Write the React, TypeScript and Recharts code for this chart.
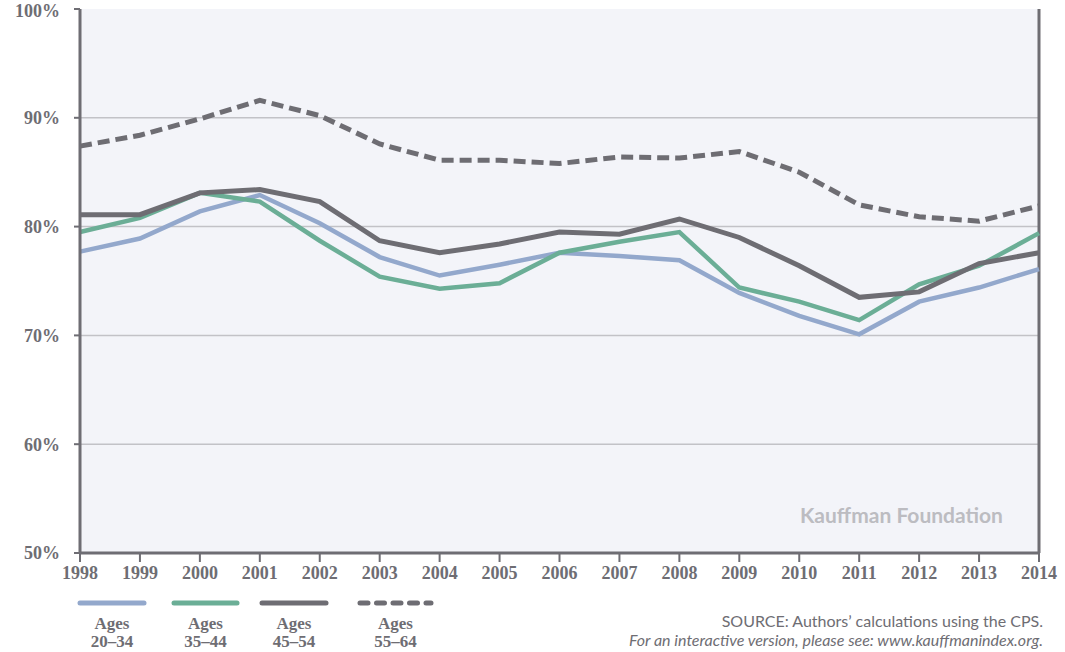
import React from "react";
import {
  LineChart,
  Line,
  XAxis,
  YAxis,
  CartesianGrid,
  ReferenceLine,
} from "recharts";

// Share of people by age group, 1998-2014
const years = [
  "1998", "1999", "2000", "2001", "2002", "2003", "2004", "2005", "2006",
  "2007", "2008", "2009", "2010", "2011", "2012", "2013", "2014",
];
const ages2034 = [77.7, 78.9, 81.4, 82.9, 80.3, 77.2, 75.5, 76.5, 77.6, 77.3, 76.9, 73.9, 71.8, 70.1, 73.1, 74.4, 76.1];
const ages3544 = [79.5, 80.8, 83.1, 82.3, 78.7, 75.4, 74.3, 74.8, 77.6, 78.6, 79.5, 74.4, 73.1, 71.4, 74.7, 76.4, 79.4];
const ages4554 = [81.1, 81.1, 83.1, 83.4, 82.3, 78.7, 77.6, 78.4, 79.5, 79.3, 80.7, 79.0, 76.4, 73.5, 74.0, 76.6, 77.6];
const ages5564 = [87.4, 88.4, 89.9, 91.6, 90.2, 87.6, 86.1, 86.1, 85.8, 86.4, 86.3, 86.9, 85.0, 82.0, 80.9, 80.5, 81.9];
const yTicks = [50, 60, 70, 80, 90, 100];

const data = years.map((year, i) => ({
  year,
  a: ages2034[i],
  b: ages3544[i],
  c: ages4554[i],
  d: ages5564[i],
}));

const BLUE = "#93a8cc";
const GREEN = "#6bae96";
const DARK = "#6e6d73";
const serif = "'Liberation Serif', serif";
const sans = "Lato, 'Open Sans', sans-serif";

const legendItems = [
  { label: "20–34", color: BLUE, x1: 80, x2: 144, dash: undefined },
  { label: "35–44", color: GREEN, x1: 174, x2: 237, dash: undefined },
  { label: "45–54", color: DARK, x1: 262, x2: 326, dash: undefined },
  { label: "55–64", color: DARK, x1: 360, x2: 431, dash: "8 8.5" },
];

const App = () => {
  return (
    <div style={{ position: "absolute", left: 0, top: 0, width: 1065, height: 652, background: "#fff" }}>
      <LineChart
        width={1065}
        height={652}
        data={data}
        margin={{ top: 9, right: 26, bottom: 69, left: 10 }}
      >
        <CartesianGrid
          vertical={false}
          horizontalValues={[60, 70, 80, 90]}
          stroke="#c2c2c7"
          strokeWidth={1.5}
          fill="#f3f4f9"
        />
        <XAxis
          dataKey="year"
          height={30}
          axisLine={{ stroke: DARK, strokeWidth: 3 }}
          tickLine={{ stroke: DARK, strokeWidth: 2 }}
          tickSize={9}
          tickMargin={4}
          interval={0}
          tick={{ fill: DARK, fontFamily: serif, fontWeight: 700, fontSize: 18 }}
        />
        <YAxis
          width={70}
          domain={[50, 100]}
          ticks={yTicks}
          tickFormatter={(v: number) => `${v}%`}
          axisLine={{ stroke: DARK, strokeWidth: 3 }}
          tickLine={{ stroke: DARK, strokeWidth: 2 }}
          tickSize={6}
          tickMargin={14}
          tick={{ fill: DARK, fontFamily: serif, fontWeight: 700, fontSize: 18 }}
        />
        <ReferenceLine x="2014" stroke={DARK} strokeWidth={3} />
        <Line dataKey="a" stroke={BLUE} strokeWidth={4.5} dot={false} isAnimationActive={false} />
        <Line dataKey="b" stroke={GREEN} strokeWidth={4.5} dot={false} isAnimationActive={false} />
        <Line dataKey="c" stroke={DARK} strokeWidth={5} dot={false} isAnimationActive={false} />
        <Line
          dataKey="d"
          stroke={DARK}
          strokeWidth={5}
          strokeDasharray="12 6"
          dot={false}
          isAnimationActive={false}
        />
      </LineChart>

      <div
        style={{
          position: "absolute",
          left: 800,
          top: 502,
          fontFamily: sans,
          fontWeight: 700,
          fontSize: 21,
          color: "#bcbcc1",
          whiteSpace: "nowrap",
        }}
      >
        Kauffman Foundation
      </div>

      <svg style={{ position: "absolute", left: 0, top: 0 }} width={1065} height={652}>
        {legendItems.map((item) => (
          <g key={item.label}>
            <line
              x1={item.x1}
              x2={item.x2}
              y1={603}
              y2={603}
              stroke={item.color}
              strokeWidth={5}
              strokeLinecap="round"
              strokeDasharray={item.dash}
            />
            <text
              x={(item.x1 + item.x2) / 2}
              y={629}
              textAnchor="middle"
              fill={DARK}
              fontFamily={serif}
              fontWeight={700}
              fontSize={17}
            >
              Ages
            </text>
            <text
              x={(item.x1 + item.x2) / 2}
              y={647}
              textAnchor="middle"
              fill={DARK}
              fontFamily={serif}
              fontWeight={700}
              fontSize={17}
            >
              {item.label}
            </text>
          </g>
        ))}
        <text x={1043} y={627} textAnchor="end" fill="#6e6d73" fontFamily={sans} fontSize={16}>
          SOURCE: Authors’ calculations using the CPS.
        </text>
        <text
          x={1043}
          y={646}
          textAnchor="end"
          fill="#6e6d73"
          fontFamily={sans}
          fontSize={16}
          fontStyle="italic"
        >
          For an interactive version, please see: www.kauffmanindex.org.
        </text>
      </svg>
    </div>
  );
};

export default App;
